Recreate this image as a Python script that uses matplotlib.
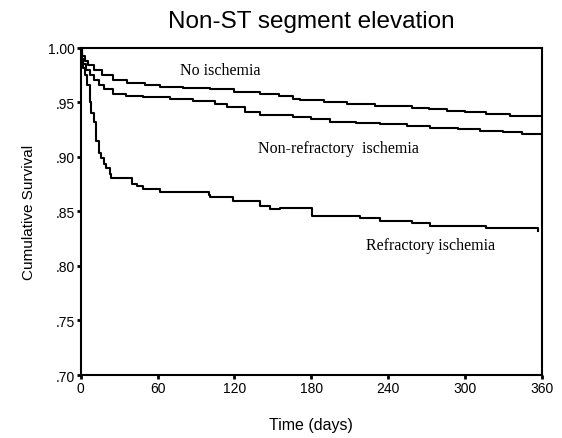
import matplotlib.pyplot as plt
from matplotlib.ticker import FuncFormatter

# Kaplan-Meier step estimates (days, cumulative survival)
no_isch_t = [0, 1, 3, 6, 10, 17, 25, 36, 50, 62, 80, 101, 120, 140, 155, 166, 171, 190, 208, 230, 259, 272, 286, 300, 317, 335, 350, 360]
no_isch_s = [1.000, 0.993, 0.988, 0.984, 0.980, 0.975, 0.971, 0.968, 0.966, 0.964, 0.963, 0.962, 0.960, 0.958, 0.956, 0.953, 0.952, 0.950, 0.949, 0.947, 0.945, 0.944, 0.9425, 0.941, 0.9395, 0.938, 0.9375, 0.9374]

non_ref_t = [0, 1, 2, 4, 7, 10, 14, 18, 25, 35, 49, 70, 88, 105, 114, 128, 140, 166, 180, 195, 215, 234, 255, 273, 295, 312, 330, 345, 360]
non_ref_s = [1.000, 0.990, 0.985, 0.980, 0.975, 0.971, 0.966, 0.962, 0.958, 0.956, 0.955, 0.953, 0.9515, 0.949, 0.9455, 0.941, 0.9385, 0.9365, 0.935, 0.9325, 0.931, 0.930, 0.928, 0.927, 0.9255, 0.924, 0.9225, 0.921, 0.9205]

refr_t = [0, 1, 2, 3, 5, 7, 8, 10, 12, 14, 16, 18, 20, 23, 24, 40, 44, 49, 62, 100, 101, 119, 140, 148, 156, 181, 218, 234, 259, 273, 317, 357]
refr_s = [1.000, 0.990, 0.982, 0.975, 0.966, 0.950, 0.940, 0.932, 0.915, 0.904, 0.899, 0.894, 0.890, 0.8845, 0.881, 0.8755, 0.873, 0.8707, 0.8683, 0.865, 0.863, 0.860, 0.8554, 0.8524, 0.853, 0.846, 0.8438, 0.8416, 0.8393, 0.837, 0.8347, 0.8325]

curve_labels = ["No ischemia", "Non-refractory  ischemia", "Refractory ischemia"]
x_ticks = [0, 60, 120, 180, 240, 300, 360]
y_ticks = [0.70, 0.75, 0.80, 0.85, 0.90, 0.95, 1.00]

plt.rcParams["font.family"] = ["Liberation Sans", "DejaVu Sans"]

fig = plt.figure(figsize=(5.62, 4.39), dpi=100)
ax = fig.add_axes([0.1436, 0.1435, 0.820, 0.745])

for t, s in [(no_isch_t, no_isch_s), (non_ref_t, non_ref_s), (refr_t, refr_s)]:
    ax.step(t, s, where="post", color="black", lw=1.5)

ax.set_xlim(0, 360)
ax.set_ylim(0.70, 1.00)
ax.set_xticks(x_ticks)
ax.set_yticks(y_ticks)
ax.yaxis.set_major_formatter(FuncFormatter(lambda v, p: "1.00" if v >= 0.999 else ("%.2f" % v)[1:]))
ax.tick_params(direction="out", length=3, width=2, labelsize=10, pad=1)
for sp in ax.spines.values():
    sp.set_linewidth(1.5)

# curve labels in a serif face
serif = ["Liberation Serif", "DejaVu Serif"]
ax.text(77.5, 0.980, curve_labels[0], family=serif, fontsize=11.5, va="center")
ax.text(138.5, 0.908, curve_labels[1], family=serif, fontsize=11.5, va="center")
ax.text(222.8, 0.8194, curve_labels[2], family=serif, fontsize=11.5, va="center")

ax.set_title("Non-ST segment elevation", fontsize=17.5, pad=15)
ax.set_xlabel("Time (days)", fontsize=11.5, labelpad=16)
ax.set_ylabel("Cumulative Survival", fontsize=11, labelpad=9)

fig.savefig("out.png", dpi=100)
